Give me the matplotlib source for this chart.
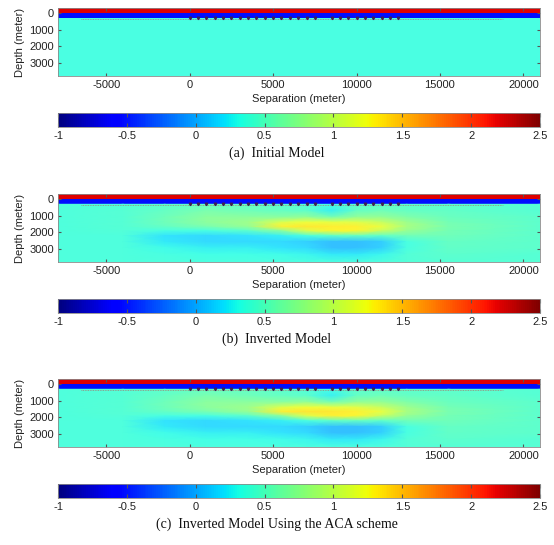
import numpy as np
import matplotlib
matplotlib.use("Agg")
import matplotlib.pyplot as plt
from matplotlib.colors import ListedColormap, Normalize

plt.rcParams["axes.unicode_minus"] = False

# ---------------- data ----------------
vmin, vmax = -1.0, 2.5
cbar_ticks = [-1, -0.5, 0, 0.5, 1, 1.5, 2, 2.5]
cbar_ticklabels = ["-1", "-0.5", "0", "0.5", "1", "1.5", "2", "2.5"]
x_ticks = [-5000, 0, 5000, 10000, 15000, 20000]
y_ticks = [0, 1000, 2000, 3000]
x_range = [-7900, 21000]
y_range = [-280, 3750]

# layered part (air, sea water) : depth edges and log10 resistivity
air_edges = [-280, 30]
air_value = 2.2
water_edges = [30, 330]
water_value = -0.52

# receivers on the sea floor and tow line
receiver_x = [0, 500, 1000, 1500, 2000, 2500, 3000, 3500, 4000, 4500, 5000, 5500,
              6000, 6500, 7000, 7500, 8500, 9000, 9500, 10000, 10500, 11000,
              11500, 12000, 12500]
receiver_depth = 330
towline_x = [-6500, 18800]
towline_depth = 345

# subsurface grid nodes
grid_x = [-7900, -4000, -1500, 1000, 3500, 5500, 7000, 8500, 10000, 11500, 13000, 15500, 21000]
grid_z = [330, 700, 1100, 1400, 1650, 1900, 2200, 2550, 2900, 3300, 3750]

initial_background = 0.34

inverted_b = [
    [0.38, 0.40, 0.45, 0.50, 0.50, 0.45, 0.40, 0.35, 0.45, 0.45, 0.45, 0.45, 0.42],
    [0.38, 0.42, 0.50, 0.60, 0.55, 0.50, 0.45, 0.25, 0.50, 0.55, 0.50, 0.48, 0.42],
    [0.38, 0.42, 0.55, 0.70, 0.70, 0.70, 0.75, 0.60, 0.75, 0.75, 0.65, 0.52, 0.45],
    [0.38, 0.42, 0.55, 0.70, 0.80, 1.12, 1.22, 1.18, 1.15, 1.02, 0.80, 0.58, 0.45],
    [0.38, 0.42, 0.50, 0.60, 0.75, 1.30, 1.34, 1.32, 1.30, 1.20, 0.85, 0.60, 0.45],
    [0.38, 0.40, 0.35, 0.35, 0.45, 0.70, 1.12, 1.28, 1.28, 1.02, 0.75, 0.58, 0.45],
    [0.38, 0.38, 0.20, 0.15, 0.20, 0.25, 0.35, 0.45, 0.50, 0.45, 0.55, 0.55, 0.45],
    [0.38, 0.38, 0.22, 0.15, 0.15, 0.15, 0.12, 0.05, 0.05, 0.10, 0.35, 0.50, 0.45],
    [0.38, 0.38, 0.30, 0.25, 0.25, 0.20, 0.15, 0.05, 0.05, 0.12, 0.35, 0.48, 0.45],
    [0.38, 0.38, 0.35, 0.32, 0.32, 0.30, 0.28, 0.22, 0.22, 0.28, 0.40, 0.45, 0.42],
    [0.38, 0.38, 0.38, 0.36, 0.36, 0.36, 0.36, 0.36, 0.36, 0.38, 0.40, 0.42, 0.42],
]

inverted_c = [
    [0.38, 0.40, 0.45, 0.50, 0.50, 0.45, 0.40, 0.35, 0.45, 0.45, 0.45, 0.45, 0.42],
    [0.38, 0.42, 0.50, 0.60, 0.55, 0.50, 0.45, 0.25, 0.50, 0.55, 0.50, 0.48, 0.42],
    [0.38, 0.42, 0.55, 0.70, 0.70, 0.70, 0.75, 0.60, 0.75, 0.75, 0.65, 0.52, 0.45],
    [0.38, 0.42, 0.55, 0.70, 0.80, 1.14, 1.24, 1.20, 1.15, 1.02, 0.80, 0.58, 0.45],
    [0.38, 0.42, 0.50, 0.60, 0.75, 1.32, 1.36, 1.34, 1.30, 1.20, 0.85, 0.60, 0.45],
    [0.38, 0.40, 0.35, 0.35, 0.45, 0.72, 1.14, 1.30, 1.28, 1.02, 0.75, 0.58, 0.45],
    [0.38, 0.38, 0.20, 0.15, 0.20, 0.25, 0.35, 0.45, 0.50, 0.45, 0.55, 0.55, 0.45],
    [0.38, 0.38, 0.22, 0.15, 0.15, 0.15, 0.12, 0.05, 0.05, 0.10, 0.35, 0.50, 0.45],
    [0.38, 0.38, 0.30, 0.25, 0.25, 0.20, 0.15, 0.05, 0.05, 0.12, 0.35, 0.48, 0.45],
    [0.38, 0.38, 0.35, 0.32, 0.32, 0.30, 0.28, 0.22, 0.22, 0.28, 0.40, 0.45, 0.42],
    [0.38, 0.38, 0.38, 0.36, 0.36, 0.36, 0.36, 0.36, 0.36, 0.38, 0.40, 0.42, 0.42],
]

captions = ["(a)  Initial Model", "(b)  Inverted Model",
            "(c)  Inverted Model Using the ACA scheme"]

# ---------------- figure ----------------
W, H = 554, 545
fig = plt.figure(figsize=(W / 100, H / 100), dpi=100)
cmap = plt.get_cmap("jet")
# slightly washed-out version of jet for the sediment part (as in the scanned figure)
wash = 0.8
jet_cols = cmap(np.linspace(0, 1, 256))
pale_cols = jet_cols.copy()
pale_cols[:, :3] = jet_cols[:, :3] * wash + (1 - wash)
cmap_pale = ListedColormap(pale_cols)

def fx(px):
    return px / W

def fy(py):
    return 1 - py / H

panel_tops = [8, 194, 379]
sans = ["Liberation Sans", "DejaVu Sans"]
serif = ["Liberation Serif", "DejaVu Serif"]
edge_col = "#8a8a8a"

models = [None, inverted_b, inverted_c]

for i, top in enumerate(panel_tops):
    left_px, right_px = 58, 540
    ax = fig.add_axes([fx(left_px), fy(top + 68), fx(right_px - left_px), 68 / H])
    # air & water layers
    ax.pcolormesh(x_range, air_edges, np.array([[air_value]]), cmap=cmap, vmin=vmin, vmax=vmax)
    ax.pcolormesh(x_range, water_edges, np.array([[water_value]]), cmap=cmap, vmin=vmin, vmax=vmax)
    # subsurface
    if models[i] is None:
        ax.pcolormesh(x_range, [water_edges[1], y_range[1]], np.array([[initial_background]]),
                      cmap=cmap_pale, vmin=vmin, vmax=vmax)
    else:
        X, Z = np.meshgrid(grid_x, grid_z)
        ax.pcolormesh(X, Z, np.array(models[i]), shading="gouraud", cmap=cmap_pale,
                      vmin=vmin, vmax=vmax)
    ax.plot(towline_x, [towline_depth, towline_depth], color="#c05050", lw=0.6,
            ls=(0, (1, 1)), alpha=0.7)
    ax.plot(receiver_x, [receiver_depth] * len(receiver_x), ls="none", marker="v",
            ms=1.8, color="#402050", mec="#402050")
    ax.set_xlim(x_range)
    ax.set_ylim(y_range[1], y_range[0])
    ax.set_xticks(x_ticks)
    ax.set_yticks(y_ticks)
    ax.tick_params(direction="in", length=2, labelsize=8, colors="#555555",
                   labelcolor="#222222", pad=3, top=True, right=True)
    for lab in ax.get_xticklabels() + ax.get_yticklabels():
        lab.set_family(sans)
    for s in ax.spines.values():
        s.set_color(edge_col)
        s.set_linewidth(0.6)
    ax.set_ylabel("Depth (meter)", fontsize=8, family=sans, labelpad=3, color="#222222")
    ax.set_xlabel("Separation (meter)", fontsize=8, family=sans, labelpad=2.5, color="#222222")

    # colorbar
    cax = fig.add_axes([fx(left_px), fy(top + 119), fx(right_px - left_px), 14 / H])
    sm = matplotlib.cm.ScalarMappable(norm=Normalize(vmin, vmax), cmap=cmap)
    cb = fig.colorbar(sm, cax=cax, orientation="horizontal")
    cb.set_ticks(cbar_ticks)
    cb.set_ticklabels(cbar_ticklabels)
    cax.tick_params(direction="in", length=3, labelsize=8, colors="#555555",
                    labelcolor="#222222", top=True, pad=3)
    for lab in cax.get_xticklabels():
        lab.set_family(sans)
    cb.outline.set_edgecolor(edge_col)
    cb.outline.set_linewidth(0.6)

    # caption
    fig.text(0.5, fy(top + 145), captions[i], ha="center", va="center",
             fontsize=10, family=serif, color="#111111")

fig.savefig("out.png", dpi=100)
